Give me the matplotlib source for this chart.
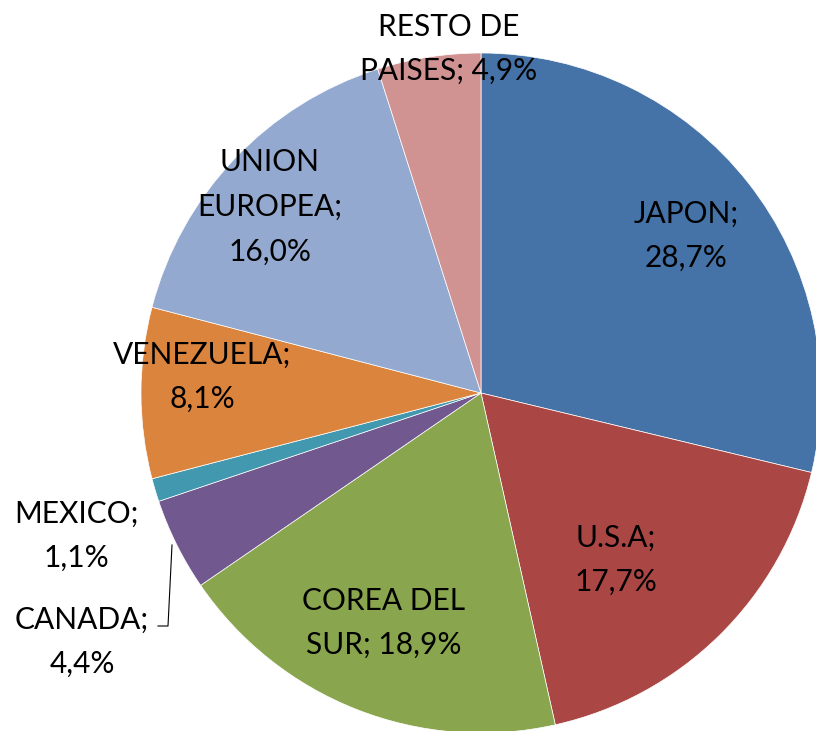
import matplotlib.pyplot as plt

# --- DATA ---
paises = ["JAPON", "U.S.A", "COREA DEL SUR", "CANADA", "MEXICO",
          "VENEZUELA", "UNION EUROPEA", "RESTO DE PAISES"]
porcentajes = [28.7, 17.7, 18.9, 4.4, 1.1, 8.1, 16.0, 4.9]
colores = ["#4572A7", "#AA4643", "#89A54E", "#71588F", "#4198AF",
           "#DB843D", "#93A9CF", "#D19392"]

# label text (line broken like the original) and its centre in pixels (from top)
etiquetas = [
    ("JAPON;\n28,7%", 686, 236),
    ("U.S.A;\n17,7%", 616, 560),
    ("COREA DEL\nSUR; 18,9%", 384, 623),
    ("CANADA;\n4,4%", 82, 642),
    ("MEXICO;\n1,1%", 76, 536),
    ("VENEZUELA;\n8,1%", 202, 377),
    ("UNION\nEUROPEA;\n16,0%", 270, 207),
    ("RESTO DE\nPAISES; 4,9%", 449, 49),
]

W, H = 816, 731
fig = plt.figure(figsize=(W / 100, H / 100), dpi=100)
ax = fig.add_axes([0, 0, 1, 1])

ax.pie(porcentajes, colors=colores, startangle=90, counterclock=False,
       center=(481, H - 393), radius=340,
       wedgeprops={"edgecolor": "white", "linewidth": 0.5})
ax.set_xlim(0, W)
ax.set_ylim(0, H)
ax.set_aspect("equal")
ax.axis("off")

for txt, x, y in etiquetas:
    ax.text(x, H - y, txt, ha="center", va="center", fontsize=21.5,
            family="Lato", color="black", linespacing=1.72)

# leader line for CANADA
ax.plot([172, 168, 158], [H - 545, H - 626, H - 626], color="black", lw=0.8)

fig.savefig("out.png", dpi=100)
